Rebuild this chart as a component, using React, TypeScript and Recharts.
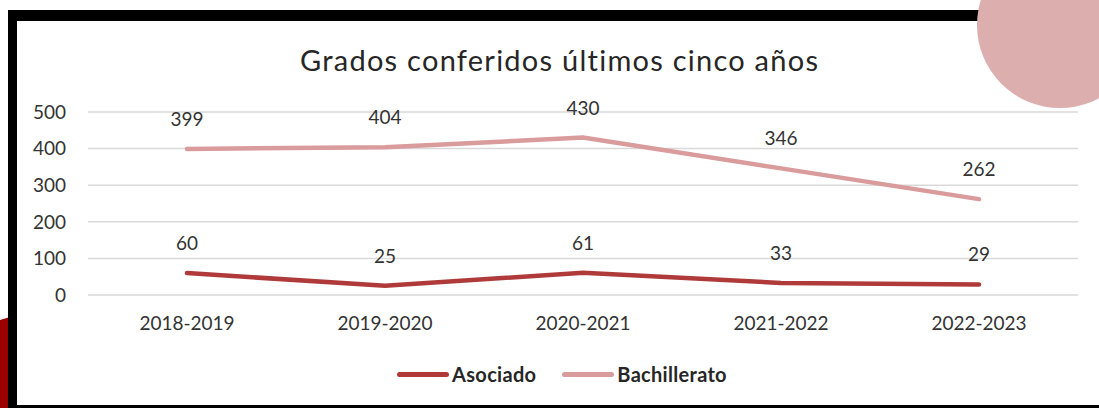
import React from "react";
import {
  LineChart,
  Line,
  XAxis,
  YAxis,
  CartesianGrid,
  Legend,
  LabelList,
} from "recharts";

const years = ["2018-2019", "2019-2020", "2020-2021", "2021-2022", "2022-2023"];
const asociado = [60, 25, 61, 33, 29];
const bachillerato = [399, 404, 430, 346, 262];
const yTicks = [0, 100, 200, 300, 400, 500];

const data = years.map((year, i) => ({
  year,
  Asociado: asociado[i],
  Bachillerato: bachillerato[i],
}));

const FONT = "Lato, 'Open Sans', sans-serif";
const DARK = "#B03A3A";
const LIGHT = "#D99B9B";

function LegendContent() {
  const items = [
    { name: "Asociado", color: DARK },
    { name: "Bachillerato", color: LIGHT },
  ];
  return (
    <div style={{ display: "flex", justifyContent: "center", gap: 26, fontFamily: FONT, paddingLeft: 18 }}>
      {items.map((it) => (
        <div key={it.name} style={{ display: "flex", alignItems: "center" }}>
          <div style={{ width: 52, height: 5, borderRadius: 3, background: it.color, marginRight: 3 }} />
          <span style={{ fontSize: 20, fontWeight: 700, color: "#262626", letterSpacing: 0.3 }}>{it.name}</span>
        </div>
      ))}
    </div>
  );
}

export default function App() {
  return (
    <div style={{ position: "fixed", left: 0, top: 0, width: 1099, height: 408, overflow: "hidden", background: "#fff" }}>
      {/* red shape behind the frame, bottom left */}
      <div
        style={{
          position: "absolute",
          left: 0,
          top: 317,
          width: 10,
          height: 92,
          background: "#9A0000",
          clipPath: "polygon(0 3px, 100% 0, 100% 100%, 0 100%)",
        }}
      />
      {/* black frame */}
      <div style={{ position: "absolute", left: 8, top: 10, width: 1200, height: 420, background: "#000" }} />
      <div style={{ position: "absolute", left: 17, top: 21, width: 1200, height: 384, background: "#fff" }} />
      {/* pink circle top right */}
      <div
        style={{
          position: "absolute",
          left: 977,
          top: -58,
          width: 166,
          height: 166,
          borderRadius: "50%",
          background: "#DDAEAE",
        }}
      />
      <div
        style={{
          position: "absolute",
          top: 42,
          left: 300,
          whiteSpace: "nowrap",
          fontFamily: FONT,
          fontSize: 29,
          letterSpacing: 1.25,
          color: "#262626",
        }}
      >
        Grados conferidos últimos cinco años
      </div>
      <div style={{ position: "absolute", left: 0, top: 0 }}>
        <LineChart
          width={1099}
          height={408}
          data={data}
          margin={{ top: 112, right: 21, bottom: 43, left: 28 }}
        >
          <CartesianGrid vertical={false} stroke="#D9D9D9" strokeWidth={1.5} />
          <XAxis
            dataKey="year"
            axisLine={false}
            tickLine={false}
            padding={{ left: 99, right: 99 }}
            height={30}
            tickMargin={16}
            tick={{ fontSize: 19, fill: "#333", fontFamily: FONT }}
          />
          <YAxis
            domain={[0, 500]}
            ticks={yTicks}
            axisLine={false}
            tickLine={false}
            width={60}
            tickMargin={16}
            tick={{ fontSize: 19, fill: "#333", fontFamily: FONT }}
          />
          <Legend
            verticalAlign="bottom"
            height={40}
            content={<LegendContent />}
            wrapperStyle={{ top: 362, bottom: "auto" }}
          />
          <Line
            type="linear"
            dataKey="Asociado"
            stroke={DARK}
            strokeWidth={4.5}
            strokeLinecap="round"
            dot={false}
            isAnimationActive={false}
          >
            <LabelList dataKey="Asociado" position="top" offset={23} fill="#333" fontSize={19} fontFamily={FONT} />
          </Line>
          <Line
            type="linear"
            dataKey="Bachillerato"
            stroke={LIGHT}
            strokeWidth={4.5}
            strokeLinecap="round"
            dot={false}
            isAnimationActive={false}
          >
            <LabelList dataKey="Bachillerato" position="top" offset={23} fill="#333" fontSize={19} fontFamily={FONT} />
          </Line>
        </LineChart>
      </div>
    </div>
  );
}
